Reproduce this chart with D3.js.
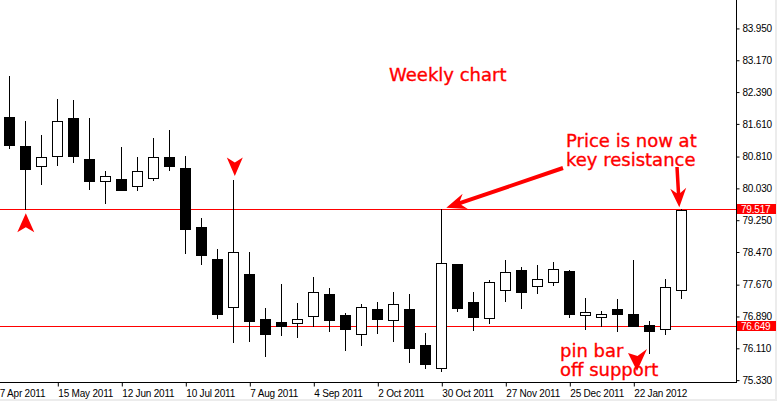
<!DOCTYPE html>
<html>
<head>
<meta charset="utf-8">
<script src="https://cdn.jsdelivr.net/npm/d3@7"></script>
<style>
  html, body { margin: 0; padding: 0; background: #fff; }
  svg { display: block; }
  .axis text { font-family: "Liberation Sans", Arial, sans-serif; font-size: 10px; fill: #000; letter-spacing: -0.2px; }
  .note { font-family: "DejaVu Sans", Verdana, sans-serif; font-size: 18px; fill: #ff0000; stroke: #ff0000; stroke-width: 0.35px; }
</style>
</head>
<body>
<svg id="chart"></svg>
<script>
// weekly bars, USD/JPY style
const weeks = ['2011-04-24', '2011-05-01', '2011-05-08', '2011-05-15', '2011-05-22', '2011-05-29', '2011-06-05',
  '2011-06-12', '2011-06-19', '2011-06-26', '2011-07-03', '2011-07-10', '2011-07-17', '2011-07-24', '2011-07-31',
  '2011-08-07', '2011-08-14', '2011-08-21', '2011-08-28', '2011-09-04', '2011-09-11', '2011-09-18', '2011-09-25',
  '2011-10-02', '2011-10-09', '2011-10-16', '2011-10-23', '2011-10-30', '2011-11-06', '2011-11-13', '2011-11-20',
  '2011-11-27', '2011-12-04', '2011-12-11', '2011-12-18', '2011-12-25', '2012-01-01', '2012-01-08', '2012-01-15',
  '2012-01-22', '2012-01-29', '2012-02-05', '2012-02-12'];
const open = [81.779, 81.068, 80.586, 80.831, 81.755, 80.750, 80.203, 80.260, 80.095, 80.277, 80.792, 80.529, 79.083,
  78.299, 77.130, 77.931, 76.828, 76.755, 76.738, 76.894, 77.441, 76.926, 76.453, 77.073, 76.796, 77.073, 76.191,
  75.620, 78.176, 77.245, 76.845, 77.546, 78.029, 77.644, 77.742, 78.005, 76.919, 76.885, 77.073, 76.951, 76.681,
  76.591, 77.532];
const high = [82.784, 81.681, 81.338, 82.220, 82.196, 81.755, 80.456, 81.044, 80.799, 81.265, 81.461, 80.823, 79.304,
  78.544, 80.235, 78.470, 77.098, 77.686, 77.220, 77.858, 77.588, 76.975, 77.196, 77.245, 77.490, 77.441, 76.485,
  79.517, 78.180, 77.490, 77.784, 78.274, 78.095, 78.144, 78.225, 78.029, 77.343, 77.032, 77.318, 78.282, 76.779,
  77.809, 79.517];
const low = [81.027, 79.517, 80.144, 80.610, 80.684, 80.022, 79.679, 79.990, 79.997, 80.242, 80.488, 78.453, 78.184,
  76.860, 76.272, 76.296, 75.929, 76.443, 76.394, 76.664, 76.542, 76.076, 76.198, 76.492, 76.296, 75.782, 75.635,
  75.561, 77.032, 76.566, 76.738, 77.277, 77.105, 77.473, 77.669, 76.885, 76.591, 76.664, 76.542, 76.650, 76.002,
  76.468, 77.350];
const close = [81.100, 80.512, 80.792, 81.681, 80.831, 80.216, 80.326, 79.997, 80.448, 80.792, 80.586, 79.042, 78.404,
  76.958, 78.463, 76.787, 76.468, 76.664, 76.821, 77.483, 76.811, 76.591, 77.122, 76.836, 77.189, 76.125, 75.733,
  78.193, 77.105, 76.885, 77.728, 77.973, 77.497, 77.801, 78.046, 76.951, 76.992, 76.951, 76.958, 76.664, 76.542,
  77.605, 79.500];

const priceTicks = [83.950, 83.170, 82.390, 81.610, 80.810, 80.030, 79.250, 78.470, 77.670, 76.890, 76.110, 75.330];
const dateTicks = ['2011-04-17', '2011-05-15', '2011-06-12', '2011-07-10', '2011-08-07', '2011-09-04', '2011-10-02',
  '2011-10-30', '2011-11-27', '2011-12-25', '2012-01-22'];
const levels = [79.517, 76.649];

const WIDTH = 777, HEIGHT = 401;
const plotRight = 736, plotBottom = 382;

const parse = d3.utcParse('%Y-%m-%d');
const bars = weeks.map((w, i) => ({
  date: parse(w), open: open[i], high: high[i], low: low[i], close: close[i]
}));

// 16px per weekly bar
const x = d3.scaleUtc()
  .domain([bars[0].date, bars[bars.length - 1].date])
  .range([9.3, 9.3 + (bars.length - 1) * 16]);
const y = d3.scaleLinear()
  .domain([75.284, 84.647])
  .range([plotBottom, 0]);

const svg = d3.select('#chart')
  .attr('width', WIDTH)
  .attr('height', HEIGHT)
  .attr('viewBox', [0, 0, WIDTH, HEIGHT]);

svg.append('rect').attr('width', WIDTH).attr('height', HEIGHT).attr('fill', '#fff');
// window edge
svg.append('rect').attr('x', WIDTH - 2).attr('width', 2).attr('height', HEIGHT).attr('fill', '#ececec');
svg.append('rect').attr('y', HEIGHT - 2).attr('width', WIDTH).attr('height', 2).attr('fill', '#ececec');

const plot = svg.append('g');

// support / resistance lines (behind candles)
plot.selectAll('.level')
  .data(levels)
  .enter().append('line')
  .attr('class', 'level')
  .attr('x1', 0).attr('x2', plotRight)
  .attr('y1', d => Math.floor(y(d)) + 0.5)
  .attr('y2', d => Math.floor(y(d)) + 0.5)
  .attr('stroke', '#ff0000')
  .attr('stroke-width', 1);

const candle = plot.selectAll('.candle')
  .data(bars)
  .enter().append('g')
  .attr('class', 'candle');

const cx = d => Math.floor(x(d.date));

candle.append('line')
  .attr('x1', d => cx(d) + 0.5).attr('x2', d => cx(d) + 0.5)
  .attr('y1', d => Math.round(y(d.high)))
  .attr('y2', d => Math.round(y(d.low)) + 1)
  .attr('stroke', '#000')
  .attr('stroke-width', 1);

candle.append('rect')
  .each(function (d) {
    const top = Math.round(y(Math.max(d.open, d.close)));
    const bot = Math.max(top + 2, Math.round(y(Math.min(d.open, d.close))) + 1);
    const r = d3.select(this);
    if (d.close >= d.open) {
      r.attr('x', cx(d) - 4.5).attr('y', top + 0.5)
        .attr('width', 10).attr('height', bot - top - 1)
        .attr('fill', '#fff').attr('stroke', '#000').attr('stroke-width', 1);
    } else {
      r.attr('x', cx(d) - 5).attr('y', top)
        .attr('width', 11).attr('height', bot - top)
        .attr('fill', '#000');
    }
  });

// axes
svg.append('line')
  .attr('x1', plotRight + 0.5).attr('x2', plotRight + 0.5)
  .attr('y1', 0).attr('y2', plotBottom + 1)
  .attr('stroke', '#000');
svg.append('line')
  .attr('x1', 0).attr('x2', plotRight + 1)
  .attr('y1', plotBottom + 0.5).attr('y2', plotBottom + 0.5)
  .attr('stroke', '#000');

const yAxis = d3.axisRight(y)
  .tickValues(priceTicks)
  .tickFormat(d3.format('.3f'))
  .tickSize(3)
  .tickPadding(3);
svg.append('g')
  .attr('class', 'axis')
  .attr('transform', `translate(${plotRight + 0.5},0)`)
  .call(yAxis)
  .call(g => g.select('.domain').remove())
  .call(g => g.selectAll('.tick line').attr('stroke', '#000'));

const xAxis = d3.axisBottom(x)
  .tickValues(dateTicks.map(parse))
  .tickFormat(d3.utcFormat('%-d %b %Y'))
  .tickSize(4)
  .tickPadding(3);
svg.append('g')
  .attr('class', 'axis')
  .attr('transform', `translate(0.5,${plotBottom + 0.5})`)
  .call(xAxis)
  .call(g => g.select('.domain').remove())
  .call(g => g.selectAll('.tick line').attr('stroke', '#000'))
  .call(g => g.selectAll('.tick text').attr('text-anchor', 'start').attr('x', 0));

// price tags for the two levels
const tag = svg.selectAll('.tag')
  .data(levels)
  .enter().append('g')
  .attr('class', 'tag axis')
  .attr('transform', d => `translate(${plotRight + 1},${Math.floor(y(d)) - 5})`);
tag.append('rect')
  .attr('width', WIDTH - plotRight - 2)
  .attr('height', 10)
  .attr('fill', '#ff0000');
tag.append('text')
  .attr('x', 4)
  .attr('y', 5)
  .attr('dy', '0.35em')
  .style('fill', '#fff')
  .text(d => d.toFixed(3));

// annotations
const red = '#ff0000';
const notes = svg.append('g');

function arrow(x1, y1, x2, y2, w, len, half) {
  const dx = x2 - x1, dy = y2 - y1, l = Math.hypot(dx, dy);
  const ux = dx / l, uy = dy / l, nx = -uy, ny = ux;
  const bx = x2 - ux * len, by = y2 - uy * len;
  const jx = x2 - ux * len * 0.75, jy = y2 - uy * len * 0.75;
  const pts = [
    [x1 + nx * w / 2, y1 + ny * w / 2],
    [jx + nx * w / 2, jy + ny * w / 2],
    [bx + nx * half, by + ny * half],
    [x2, y2],
    [bx - nx * half, by - ny * half],
    [jx - nx * w / 2, jy - ny * w / 2],
    [x1 - nx * w / 2, y1 - ny * w / 2]
  ];
  notes.append('polygon').attr('points', pts.join(' ')).attr('fill', red);
}

function head(tx, ty, dir, len, half, notch) {
  // dir: 1 points up, -1 points down
  const pts = [
    [tx, ty],
    [tx + half, ty + dir * len],
    [tx, ty + dir * (len - notch)],
    [tx - half, ty + dir * len]
  ];
  notes.append('polygon').attr('points', pts.join(' ')).attr('fill', red);
}

notes.append('text').attr('class', 'note').attr('x', 389).attr('y', 81).text('Weekly chart');
notes.append('text').attr('class', 'note').attr('x', 566).attr('y', 147).text('Price is now at');
notes.append('text').attr('class', 'note').attr('x', 566).attr('y', 166).text('key resistance');
notes.append('text').attr('class', 'note').attr('x', 560).attr('y', 357).text('pin bar');
notes.append('text').attr('class', 'note').attr('x', 560).attr('y', 376).text('off support');

// arrow markers at the pin bars
head(x(bars[1].date) + 0.5, y(bars[1].low) + 4, 1, 19, 8.5, 5);
head(x(bars[14].date) + 1.5, y(bars[14].high) - 4, -1, 18.5, 8, 5);

// arrows pointing to the resistance touches
arrow(563, 168, x(bars[27].date) + 5, y(levels[0]) - 1.5, 4, 20, 8);
arrow(677, 167, x(bars[42].date) - 2, y(levels[0]) - 2, 3.5, 19, 8);

// small arrow next to "pin bar"
notes.append('polygon')
  .attr('points', [[628, 353], [637.5, 356], [647, 349], [637, 371]].join(' '))
  .attr('fill', red);
</script>
</body>
</html>
